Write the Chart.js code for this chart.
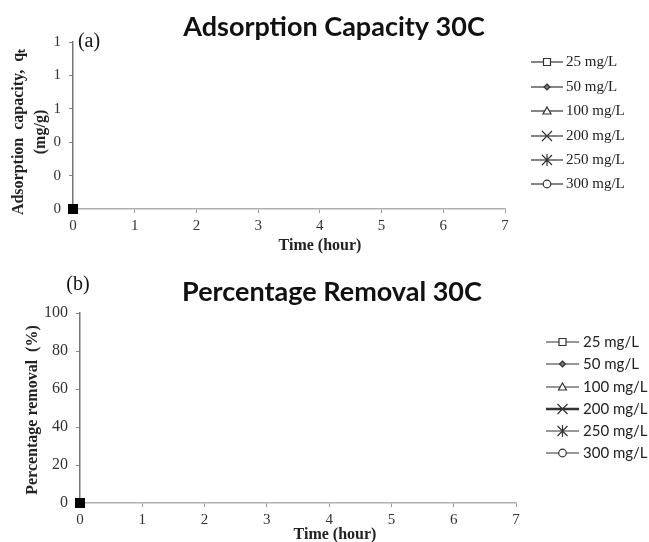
<!DOCTYPE html>
<html>
<head>
<meta charset="utf-8">
<script src="https://cdn.jsdelivr.net/npm/chart.js@4/dist/chart.umd.min.js"></script>
<style>
  html, body { margin: 0; padding: 0; background: #fff; }
  #wrap { position: relative; width: 649px; height: 542px; overflow: hidden; }
  #wrapA { position: absolute; left: 0; top: 0; width: 649px; height: 260px; }
  #wrapB { position: absolute; left: 0; top: 260px; width: 649px; height: 282px; }
</style>
</head>
<body>
<div id="wrap">
  <div id="wrapA"><canvas id="chartA"></canvas></div>
  <div id="wrapB"><canvas id="chartB"></canvas></div>
</div>
<script>
// ---------- DATA ----------
const times = [0];                       // hours
const seriesLabels = ['25 mg/L', '50 mg/L', '100 mg/L', '200 mg/L', '250 mg/L', '300 mg/L'];
// (a) adsorption capacity q_t (mg/g)
const q25 = [0];
const q50 = [0];
const q100 = [0];
const q200 = [0];
const q250 = [0];
const q300 = [0];
// (b) percentage removal (%)
const r25 = [0];
const r50 = [0];
const r100 = [0];
const r200 = [0];
const r250 = [0];
const r300 = [0];
// tick labels
const xTickLabels = ['0', '1', '2', '3', '4', '5', '6', '7'];
const yTickLabelsA = ['0', '0', '0', '1', '1', '1'];
const yTickLabelsB = ['0', '20', '40', '60', '80', '100'];
// titles
const titleA = 'Adsorption Capacity 30C';
const titleB = 'Percentage Removal 30C';

// ---------- STYLE ----------
const pointStyles = ['rect', 'circle', 'triangle', 'crossRot', 'star', 'circle'];
const pointRadii = [6, 3, 4, 5, 5, 3.5];
const serif = '"Liberation Serif", "Times New Roman", serif';
const sans = 'Lato, "Open Sans", sans-serif';

function makeDatasets(valuesList) {
  return valuesList.map((vals, i) => ({
    label: seriesLabels[i],
    data: times.map((t, j) => ({ x: t, y: vals[j] })),
    borderColor: '#000',
    backgroundColor: '#000',
    pointBackgroundColor: '#000',
    pointBorderColor: '#000',
    pointStyle: pointStyles[i],
    pointRadius: pointRadii[i],
    pointBorderWidth: 1.5,
    borderWidth: 1.5,
    showLine: true,
    clip: false
  }));
}

function drawMarker(ctx, style, x, y) {
  ctx.save();
  ctx.strokeStyle = '#333';
  ctx.fillStyle = '#fff';
  ctx.lineWidth = 1.2;
  ctx.beginPath();
  if (style === 'rect') {
    ctx.rect(x - 3.5, y - 3.5, 7, 7); ctx.fill(); ctx.stroke();
  } else if (style === 'diamond') {
    ctx.moveTo(x, y - 3); ctx.lineTo(x + 3, y); ctx.lineTo(x, y + 3); ctx.lineTo(x - 3, y); ctx.closePath();
    ctx.fillStyle = '#777'; ctx.fill(); ctx.stroke();
  } else if (style === 'triangle') {
    ctx.moveTo(x, y - 4); ctx.lineTo(x + 4, y + 3); ctx.lineTo(x - 4, y + 3); ctx.closePath(); ctx.fill(); ctx.stroke();
  } else if (style === 'crossRot') {
    ctx.moveTo(x - 5, y - 5); ctx.lineTo(x + 5, y + 5); ctx.moveTo(x + 5, y - 5); ctx.lineTo(x - 5, y + 5); ctx.stroke();
  } else if (style === 'star') {
    ctx.moveTo(x - 5, y - 5); ctx.lineTo(x + 5, y + 5); ctx.moveTo(x + 5, y - 5); ctx.lineTo(x - 5, y + 5);
    ctx.moveTo(x, y - 6); ctx.lineTo(x, y + 6); ctx.stroke();
  } else if (style === 'circle') {
    ctx.arc(x, y, 3.8, 0, Math.PI * 2); ctx.fill(); ctx.stroke();
  }
  ctx.restore();
}

function textPlugin(cfg) {
  return {
    id: 'annot_' + cfg.id,
    afterDraw(chart) {
      const ctx = chart.ctx;
      ctx.save();
      // main title
      ctx.fillStyle = '#111';
      ctx.textAlign = 'center';
      ctx.textBaseline = 'middle';
      ctx.font = 'bold ' + cfg.titleSize + 'px ' + sans;
      ctx.fillText(cfg.title, cfg.titleX, cfg.titleY);
      // panel letter
      ctx.font = '20px ' + serif;
      ctx.fillStyle = '#111';
      ctx.fillText(cfg.letter, cfg.letterX, cfg.letterY);
      // x axis title
      ctx.font = 'bold 16px ' + serif;
      ctx.fillStyle = '#222';
      ctx.fillText('Time (hour)', cfg.xTitleX, cfg.xTitleY);
      // y axis title lines
      cfg.yTitle.forEach((line, i) => {
        ctx.save();
        ctx.translate(cfg.yTitleX[i], cfg.yTitleY);
        ctx.rotate(-Math.PI / 2);
        ctx.fillText(line, 0, 0);
        ctx.restore();
      });
      // legend
      chart.data.datasets.forEach((ds, i) => {
        const y = cfg.legY[i];
        ctx.save();
        ctx.strokeStyle = '#333';
        ctx.lineWidth = (cfg.id === 'B' && i === 3) ? 2.4 : 1.2;
        ctx.beginPath();
        ctx.moveTo(cfg.legX0, y); ctx.lineTo(cfg.legX1, y); ctx.stroke();
        ctx.restore();
        const st = (i === 1) ? 'diamond' : pointStyles[i];
        drawMarker(ctx, st, (cfg.legX0 + cfg.legX1) / 2, y);
        ctx.font = cfg.legFont;
        ctx.fillStyle = '#222';
        ctx.textAlign = 'left';
        ctx.fillText(ds.label, cfg.legTextX, y);
        ctx.textAlign = 'center';
      });
      ctx.restore();
    }
  };
}

function makeChart(canvasId, datasets, opts) {
  return new Chart(document.getElementById(canvasId), {
    type: 'scatter',
    data: { datasets },
    options: {
      responsive: true,
      maintainAspectRatio: false,
      animation: false,
      events: [],
      layout: { padding: { left: 0, top: opts.top, right: opts.right, bottom: 0 } },
      plugins: { legend: { display: false }, title: { display: false }, tooltip: { enabled: false } },
      scales: {
        x: {
          type: 'linear', min: 0, max: 7,
          afterFit: s => { s.height = opts.xHeight; },
          afterBuildTicks: s => { s.ticks = xTickLabels.map((_, i) => ({ value: i })); },
          ticks: {
            stepSize: 1, autoSkip: false, maxRotation: 0, padding: 4,
            color: '#333', font: { family: serif, size: 15 },
            callback: (v, i) => xTickLabels[i]
          },
          grid: { display: true, drawOnChartArea: false, drawTicks: true, tickLength: 4, color: '#999', lineWidth: 1 },
          border: { display: true, color: '#b0b0b0', width: 1.5 }
        },
        y: {
          type: 'linear', min: opts.yMin, max: opts.yMax,
          afterFit: s => { s.width = opts.yWidth; },
          afterBuildTicks: s => { s.ticks = opts.yLabels.map((_, i) => ({ value: opts.yMin + i * opts.yStep })); },
          ticks: {
            autoSkip: false, padding: opts.yPad,
            color: '#333', font: { family: serif, size: opts.yFont },
            callback: (v, i) => opts.yLabels[i]
          },
          grid: { display: true, drawOnChartArea: false, drawTicks: true, tickLength: 4, color: '#888', lineWidth: 1 },
          border: { display: true, color: '#777', width: 1.5 }
        }
      }
    },
    plugins: [textPlugin(opts.text)]
  });
}

makeChart('chartA', makeDatasets([q25, q50, q100, q200, q250, q300]), {
  top: 42, right: 144, xHeight: 51, yWidth: 73, yPad: 8, yFont: 15,
  yMin: 0, yMax: 1, yStep: 0.2, yLabels: yTickLabelsA,
  text: {
    id: 'A', title: titleA, titleSize: 27, titleX: 334, titleY: 27,
    letter: '(a)', letterX: 89, letterY: 42,
    xTitleX: 320, xTitleY: 246,
    yTitle: ['Adsorption  capacity,  q\u209C', '(mg/g)'], yTitleX: [19, 41], yTitleY: 132,
    legY: [62, 87, 111, 136, 160, 184], legX0: 531, legX1: 563, legTextX: 566,
    legFont: '15px ' + serif
  }
});

makeChart('chartB', makeDatasets([r25, r50, r100, r200, r250, r300]), {
  top: 53, right: 133, xHeight: 39, yWidth: 80, yPad: 8, yFont: 16,
  yMin: 0, yMax: 100, yStep: 20, yLabels: yTickLabelsB,
  text: {
    id: 'B', title: titleB, titleSize: 27, titleX: 332, titleY: 32,
    letter: '(b)', letterX: 78, letterY: 25,
    xTitleX: 335, xTitleY: 275,
    yTitle: ['Percentage removal  (%)'], yTitleX: [33], yTitleY: 150,
    legY: [82, 104, 127, 149, 171, 193], legX0: 546, legX1: 579, legTextX: 583,
    legFont: '15px ' + sans
  }
});
</script>
</body>
</html>
